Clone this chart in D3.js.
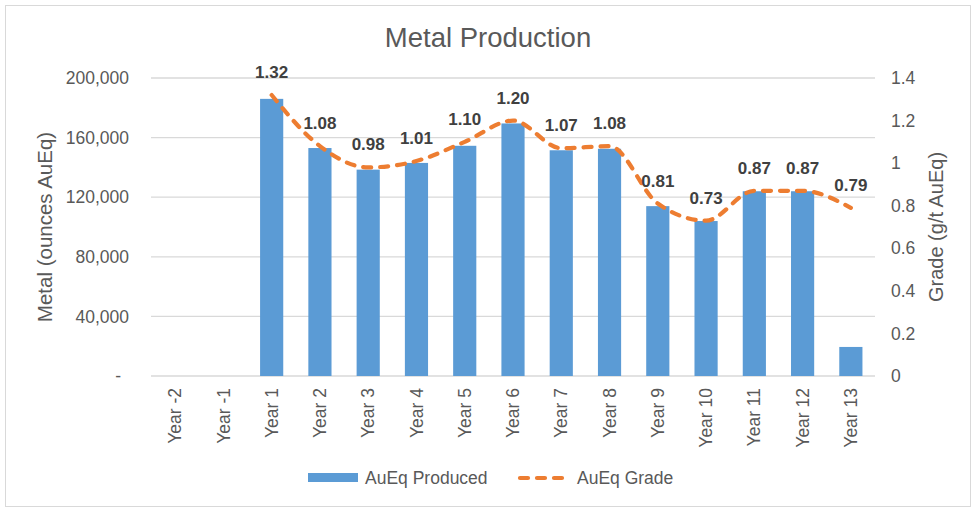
<!DOCTYPE html>
<html>
<head>
<meta charset="utf-8">
<script src="https://cdn.jsdelivr.net/npm/d3@7"></script>
<style>
  body { margin: 0; background: #fff; }
  svg text { font-family: "Liberation Sans", Arial, sans-serif; }
</style>
</head>
<body>
<div id="chart"></div>
<script>
// data
const years = ['Year -2', 'Year -1', 'Year 1', 'Year 2', 'Year 3', 'Year 4', 'Year 5', 'Year 6',
    'Year 7', 'Year 8', 'Year 9', 'Year 10', 'Year 11', 'Year 12', 'Year 13'];
const produced = [0, 0, 186000, 153000, 138500, 143000, 154500, 169500,
    151500, 152500, 114000, 104000, 124000, 124000, 19500];
const grade = [null, null, 1.32, 1.08, 0.98, 1.01, 1.10, 1.20,
    1.07, 1.08, 0.81, 0.73, 0.87, 0.87, 0.79];
const leftTicks = [0, 40000, 80000, 120000, 160000, 200000];
const rightTicks = [0, 0.2, 0.4, 0.6, 0.8, 1, 1.2, 1.4];

const width = 977;
const height = 513;
const margin = { top: 78, right: 102, bottom: 137, left: 151 };
const innerW = width - margin.left - margin.right;
const innerH = height - margin.top - margin.bottom;

const blue = '#5B9BD5';
const orange = '#ED7D31';
const textGrey = '#595959';

const $svg = d3.select('#chart').append('svg')
    .attr('width', width)
    .attr('height', height);

// chart border
$svg.append('rect')
    .attr('x', 5.5).attr('y', 5.5)
    .attr('width', 965).attr('height', 501)
    .attr('fill', '#fff')
    .attr('stroke', '#D9D9D9');

// scales
const scaleX = d3.scaleBand().domain(years).range([0, innerW]).paddingInner(0.52).paddingOuter(0.26);
const scaleY = d3.scaleLinear().domain([0, 200000]).range([innerH, 0]);
const scaleY2 = d3.scaleLinear().domain([0, 1.4]).range([innerH, 0]);

const $g = $svg.append('g').attr('transform', `translate(${margin.left}, ${margin.top})`);

// gridlines
$g.append('g').attr('class', 'grid')
    .selectAll('line').data(leftTicks).join('line')
    .attr('x1', 0).attr('x2', innerW)
    .attr('y1', d => scaleY(d)).attr('y2', d => scaleY(d))
    .attr('stroke', '#D9D9D9').attr('stroke-width', 1.3);

// left axis
const fmt = d3.format(',');
const $left = $g.append('g')
    .call(d3.axisLeft(scaleY).tickValues(leftTicks).tickSize(0).tickPadding(22)
        .tickFormat(d => (d === 0 ? '-' : fmt(d))));
$left.select('.domain').remove();
$left.selectAll('text').attr('font-size', 17.5).attr('fill', textGrey)
    .attr('font-family', '"Liberation Sans", Arial, sans-serif');
$left.selectAll('.tick').filter(d => d === 0).select('text').attr('x', -30);

// right axis
const $right = $g.append('g').attr('transform', `translate(${innerW}, 0)`)
    .call(d3.axisRight(scaleY2).tickValues(rightTicks).tickSize(0).tickPadding(16)
        .tickFormat(d3.format('~g')));
$right.select('.domain').remove();
$right.selectAll('text').attr('font-size', 17.5).attr('fill', textGrey)
    .attr('font-family', '"Liberation Sans", Arial, sans-serif');

// x axis
const $bottom = $g.append('g').attr('transform', `translate(0, ${innerH})`)
    .call(d3.axisBottom(scaleX).tickSize(0));
$bottom.select('.domain').remove();
$bottom.selectAll('text')
    .attr('font-size', 17.5).attr('fill', textGrey)
    .attr('font-family', '"Liberation Sans", Arial, sans-serif')
    .attr('transform', 'rotate(-90)')
    .attr('x', -12).attr('y', 0).attr('dy', '0.35em')
    .attr('text-anchor', 'end');

// bars
$g.append('g').attr('class', 'g-bars')
    .selectAll('rect').data(produced).join('rect')
    .attr('x', (d, i) => scaleX(years[i]))
    .attr('width', scaleX.bandwidth())
    .attr('y', d => scaleY(d))
    .attr('height', d => innerH - scaleY(d))
    .attr('fill', blue);

// grade line (smoothed)
const pts = grade.map((d, i) => ({ x: scaleX(years[i]) + scaleX.bandwidth() / 2, v: d }))
    .filter(d => d.v !== null);
const line = d3.line().x(d => d.x).y(d => scaleY2(d.v)).curve(d3.curveMonotoneX);
$g.append('path')
    .datum(pts)
    .attr('d', line)
    .attr('fill', 'none')
    .attr('stroke', orange)
    .attr('stroke-width', 4.2)
    .attr('stroke-dasharray', '8,9')
    .attr('stroke-linecap', 'round');

// data labels
$g.append('g').attr('class', 'g-labels')
    .selectAll('text').data(pts).join('text')
    .attr('x', d => d.x)
    .attr('y', d => scaleY2(d.v) - 17)
    .attr('text-anchor', 'middle')
    .attr('font-size', 17)
    .attr('font-weight', 'bold')
    .attr('fill', '#404040')
    .text(d => d.v.toFixed(2));

// titles
$svg.append('text')
    .attr('x', 488).attr('y', 47)
    .attr('text-anchor', 'middle')
    .attr('font-size', 27.5)
    .attr('fill', textGrey)
    .text('Metal Production');

$svg.append('text')
    .attr('transform', `translate(52, ${margin.top + innerH / 2}) rotate(-90)`)
    .attr('text-anchor', 'middle')
    .attr('font-size', 20.5)
    .attr('fill', textGrey)
    .text('Metal (ounces AuEq)');

$svg.append('text')
    .attr('transform', `translate(943, ${margin.top + innerH / 2}) rotate(-90)`)
    .attr('text-anchor', 'middle')
    .attr('font-size', 20)
    .attr('fill', textGrey)
    .text('Grade (g/t AuEq)');

// legend
const $legend = $svg.append('g').attr('transform', 'translate(308, 478)');
$legend.append('rect')
    .attr('x', 0).attr('y', -5).attr('width', 50).attr('height', 9)
    .attr('fill', blue);
$legend.append('text')
    .attr('x', 57).attr('y', 0).attr('dy', '0.35em')
    .attr('font-size', 17.5).attr('fill', textGrey)
    .text('AuEq Produced');
$legend.append('line')
    .attr('x1', 212).attr('x2', 258).attr('y1', 0).attr('y2', 0)
    .attr('stroke', orange).attr('stroke-width', 4.2)
    .attr('stroke-dasharray', '8,9').attr('stroke-linecap', 'round');
$legend.append('text')
    .attr('x', 269).attr('y', 0).attr('dy', '0.35em')
    .attr('font-size', 17.5).attr('fill', textGrey)
    .text('AuEq Grade');
</script>
</body>
</html>
